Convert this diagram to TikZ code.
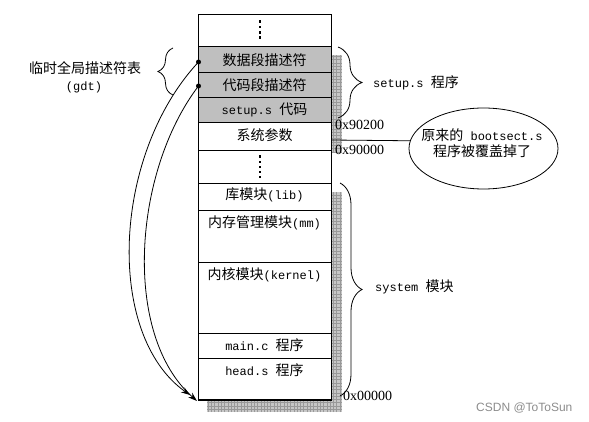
\documentclass[tikz,border=0pt]{standalone}
\usepackage{fontspec}
\setmainfont{Liberation Serif}
\setmonofont{Liberation Mono}
\newfontfamily\zhfont{Noto Sans CJK SC}
\newfontfamily\wmfont{Liberation Sans}
\usetikzlibrary{arrows.meta,decorations.pathreplacing,shapes.geometric}
\newcommand\zhtext[1]{{\zhfont\fontsize{14}{16}\selectfont #1}}
\tikzset{
  boxline/.style={line width=1pt},
  grayrow/.style={fill=black!25},
  shadowfill/.style={fill=black!22},
  gridline/.style={draw=black!40, line width=0.3pt},
  rowtext/.style={font=\ttfamily\fontsize{12}{14}\selectfont, inner sep=0pt, anchor=center},
  addr/.style={font=\rmfamily\fontsize{14}{16}\selectfont, inner sep=0pt, anchor=west},
  sidelabel/.style={font=\ttfamily\fontsize{12}{14}\selectfont, inner sep=0pt, anchor=west},
  bracestyle/.style={decorate, line width=0.8pt},
  dotsq/.style={fill=black, minimum size=2.6pt, inner sep=0pt, draw=none, rectangle},
  startdot/.style={circle, fill=black, minimum size=5pt, inner sep=0pt},
  curvearrow/.style={line width=0.8pt, -{Stealth[length=9pt,width=6pt]}},
}
\begin{document}
\begin{tikzpicture}[x=1pt,y=-1pt]
\useasboundingbox (0,0) rectangle (589,422);
% shadow
\fill[shadowfill] (331,55) rectangle (342,152);
\draw[gridline,step=3.3pt] (331,55) grid (342,152);
\fill[shadowfill] (331,192) rectangle (342,412);
\draw[gridline,step=3.3pt] (331,192) grid (342,412);
\fill[shadowfill] (207,401) rectangle (342,412);
\draw[gridline,step=3.3pt] (207,401) grid (342,412);
% gray rows
\fill[grayrow] (198.5,47) rectangle (331,123);
\fill[white] (198.5,14) rectangle (331,47);
\fill[white] (198.5,123) rectangle (331,400);
% outline and dividers
\draw[boxline] (198.5,14.5) rectangle (331,400);
\draw[line width=2pt] (197.5,400) -- (332,400);
\foreach \yy in {47,72.3,97.7,123,150.5,183.3,210.5,262.5,333,358.3}
  \draw[boxline] (198.5,\yy) -- (331,\yy);
% dots
\foreach \yy [count=\i] in {21.5,27,32.3,37.3}
  \node[dotsq] (da\i) at (260,\yy) {};
\foreach \yy [count=\i] in {156.5,162,167,172,177}
  \node[dotsq] (db\i) at (260,\yy) {};
% row texts
\node[rowtext] (t1) at (264.5,60) {\zhtext{数据段描述符}};
\node[rowtext] (t2) at (264.5,85) {\zhtext{代码段描述符}};
\node[rowtext] (t3) at (264.5,110) {setup.s \zhtext{代码}};
\node[rowtext] (t4) at (264.5,135.5) {\zhtext{系统参数}};
\node[rowtext] (t5) at (264.5,195) {\zhtext{库模块}(lib)};
\node[rowtext] (t6) at (264.5,223) {\zhtext{内存管理模块}(mm)};
\node[rowtext] (t7) at (264.5,275) {\zhtext{内核模块}(kernel)};
\node[rowtext] (t8) at (264.5,345) {main.c \zhtext{程序}};
\node[rowtext] (t9) at (264.5,370) {head.s \zhtext{程序}};
% addresses
\node[addr] (a1) at (335,125) {0x90200};
\node[addr] (a2) at (335,150) {0x90000};
\node[addr] (a3) at (343,396) {0x00000};
% braces
\draw[bracestyle, decoration={brace, amplitude=15pt}] (173,95) -- (173,48);
\draw[bracestyle, decoration={brace, amplitude=24pt}] (338,47) -- (338,118);
\draw[bracestyle, decoration={brace, amplitude=22pt}] (340,183) -- (340,396);
% side labels
\node[rowtext] (g1) at (85,68) {\zhtext{临时全局描述符表}};
\node[rowtext] (g2) at (84,87.5) {(gdt)};
\node[sidelabel] (s1) at (373,83) {setup.s \zhtext{程序}};
\node[sidelabel] (s2) at (375,287) {system \zhtext{模块}};
% ellipse note
\node[draw, ellipse, line width=0.8pt, minimum width=149pt, minimum height=81pt, inner sep=0pt] (ell) at (483.5,148.5) {};
\node[rowtext, align=center] (note) at (482,143.5) {\zhtext{原来的} bootsect.s\\[2pt]\zhtext{程序被覆盖掉了}};
\coordinate (boxr) at (331,140);
\draw[line width=0.8pt] (boxr) -- (ell.174);
% curves
\node[startdot] (d1) at (198.5,62) {};
\node[startdot] (d2) at (198.5,86) {};
\coordinate (e1) at (190,395);
\coordinate (e2) at (197,401);
\draw[curvearrow] (d1.center) .. controls (112,155) and (105,335) .. (e1);
\draw[curvearrow] (d2.center) .. controls (133,172) and (122,335) .. (e2);
% watermark
\node[font=\wmfont\fontsize{12}{14}\selectfont, text=black!45, anchor=west, inner sep=0pt] (wm) at (476,408) {CSDN @ToToSun};
\end{tikzpicture}
\end{document}
